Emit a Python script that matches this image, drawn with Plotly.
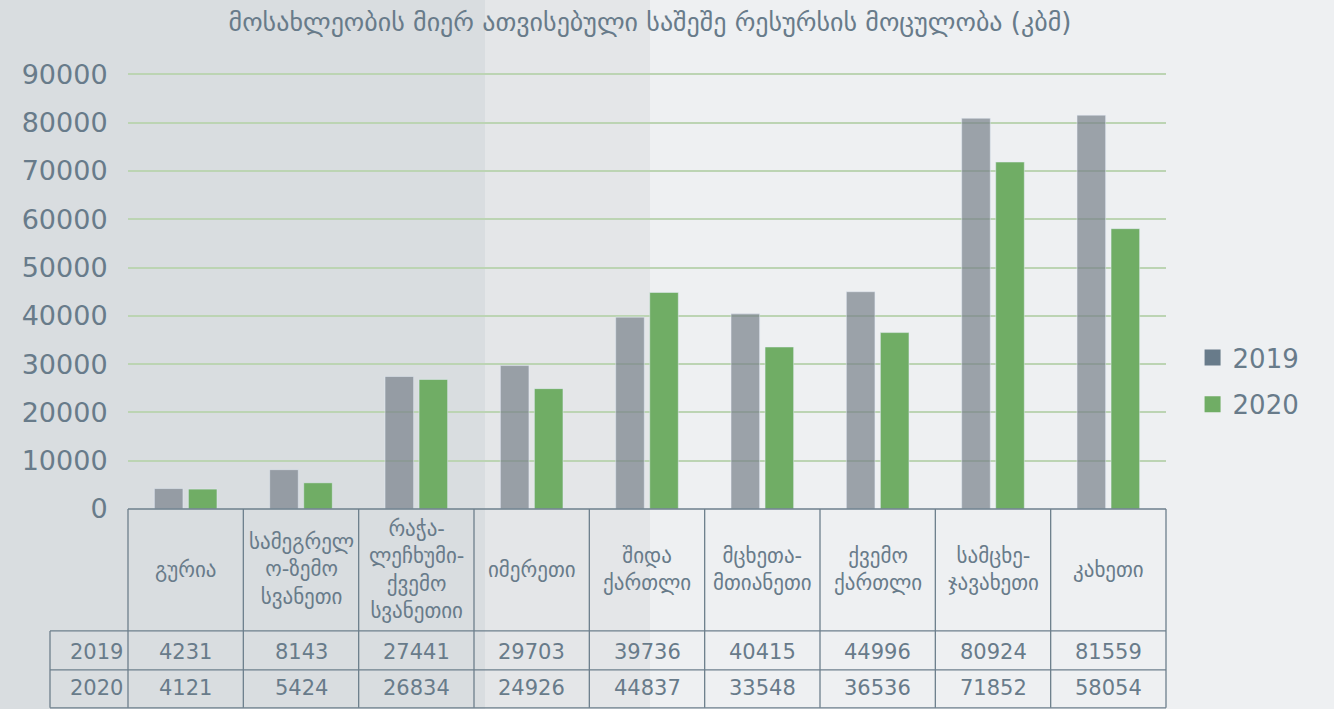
import plotly.graph_objects as go

# ---------- dados ----------
regions = ["გურია", "სამეგრელო-ზემო სვანეთი", "რაჭა-ლეჩხუმი-ქვემო სვანეთიი",
           "იმერეთი", "შიდა ქართლი", "მცხეთა-მთიანეთი", "ქვემო ქართლი",
           "სამცხე-ჯავახეთი", "კახეთი"]
region_labels = ["გურია", "სამეგრელ<br>ო-ზემო<br>სვანეთი",
                 "რაჭა-<br>ლეჩხუმი-<br>ქვემო<br>სვანეთიი", "იმერეთი",
                 "შიდა<br>ქართლი", "მცხეთა-<br>მთიანეთი", "ქვემო<br>ქართლი",
                 "სამცხე-<br>ჯავახეთი", "კახეთი"]
years = ["2019", "2020"]
v2019 = [4231, 8143, 27441, 29703, 39736, 40415, 44996, 80924, 81559]
v2020 = [4121, 5424, 26834, 24926, 44837, 33548, 36536, 71852, 58054]
y_ticks = [0, 10000, 20000, 30000, 40000, 50000, 60000, 70000, 80000, 90000]

TITLE = "მოსახლეობის მიერ ათვისებული საშეშე რესურსის მოცულობა (კბმ)"

TXT = "#687b8a"
GRAY_BAR = "rgba(120,128,138,0.7)"
GREEN = "#70ad65"
LINE = "#6d7f8c"
FONT = "DejaVu Sans"

YMAX = 90500
T = 509 - YMAX * 435 / 90000   # topo da área do gráfico em px
H = 509 - T

fig = go.Figure()
for name, vals, col, leg in [(years[0], v2019, GRAY_BAR, TXT),
                             (years[1], v2020, GREEN, GREEN)]:
    fig.add_trace(go.Bar(x=regions, y=vals, name=name, marker_color=col,
                         offsetgroup=name, showlegend=False))
    # só para a legenda (quadrado cheio)
    fig.add_trace(go.Scatter(x=[regions[0]], y=[None], name=name, mode="markers",
                             legendgroup=name,
                             marker=dict(symbol="square", size=18, color=leg)))

# ---------- tabela embaixo (linhas + textos) ----------
n = len(regions)
py = lambda pix: (509 - pix) / H
px_ = lambda pix: (pix - 128) / 1038.0

shapes = []
# fundo em faixas
for x0, x1, c in [(0, 485, "#d9dde0"), (485, 650, "#e4e6e8")]:
    shapes.append(dict(type="rect", xref="paper", yref="paper", x0=px_(x0), x1=px_(x1),
                       y0=py(720), y1=py(-10), fillcolor=c, line_width=0, layer="below"))

ln = dict(color=LINE, width=1.3)
for i in range(n + 1):
    shapes.append(dict(type="line", xref="paper", yref="paper", x0=i / n, x1=i / n,
                       y0=0, y1=py(708), line=ln))
shapes.append(dict(type="line", xref="paper", yref="paper", x0=0, x1=1, y0=0, y1=0, line=ln))
for yy in (631, 670, 708):
    shapes.append(dict(type="line", xref="paper", yref="paper", x0=px_(50), x1=1,
                       y0=py(yy), y1=py(yy), line=ln))
shapes.append(dict(type="line", xref="paper", yref="paper", x0=px_(50), x1=px_(50),
                   y0=py(631), y1=py(708), line=ln))

ann = []
for i in range(n):
    xc = (i + 0.5) / n
    ann.append(dict(xref="paper", yref="paper", x=xc, y=py(570), text=region_labels[i],
                    xanchor="center", yanchor="middle", showarrow=False,
                    font=dict(size=21, color=TXT, family=FONT)))
    for yy, vals in ((652, v2019), (688, v2020)):
        ann.append(dict(xref="paper", yref="paper", x=xc, y=py(yy), text=str(vals[i]),
                        xanchor="center", yanchor="middle", showarrow=False,
                        font=dict(size=21, color=TXT, family=FONT)))
for yy, yr in ((652, years[0]), (688, years[1])):
    ann.append(dict(xref="paper", yref="paper", x=px_(125), y=py(yy), text=yr,
                    xanchor="right", yanchor="middle", showarrow=False,
                    font=dict(size=21, color=TXT, family=FONT)))

fig.update_layout(
    width=1334, height=709,
    margin=dict(l=128, r=168, t=T, b=200),
    paper_bgcolor="#eef0f2", plot_bgcolor="rgba(0,0,0,0)",
    font=dict(family=FONT, color=TXT),
    title=dict(text=TITLE, x=650 / 1334, xanchor="center", y=1 - 22 / 709,
               yanchor="middle", font=dict(size=26, color=TXT, family=FONT)),
    barmode="group", bargap=0.41, bargroupgap=0.16,
    xaxis=dict(range=[-0.5, n - 0.5], showticklabels=False, showgrid=False,
               zeroline=False, fixedrange=True),
    yaxis=dict(range=[0, YMAX], tickvals=y_ticks, tickformat="d", showgrid=True,
               gridcolor="#bcd4b3", gridwidth=1.5, zeroline=False,
               tickfont=dict(size=27, color=TXT),
               ticks="outside", ticklen=14, tickcolor="rgba(0,0,0,0)"),
    legend=dict(x=1.0256, y=py(381), xanchor="left", yanchor="middle",
                font=dict(size=26, color=TXT), bgcolor="rgba(0,0,0,0)",
                tracegroupgap=10, itemsizing="trace"),
    shapes=shapes, annotations=ann,
    showlegend=True,
)

fig.write_html("out.html", config={"displayModeBar": False},
               post_script="document.body.style.margin='0';")
